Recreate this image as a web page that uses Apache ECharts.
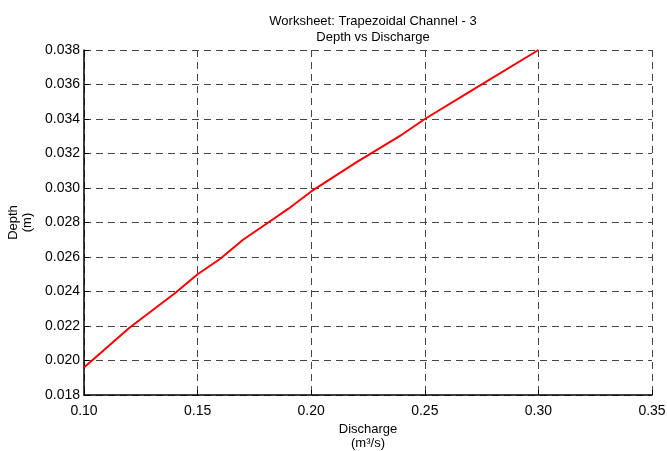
<!DOCTYPE html>
<html>
<head>
<meta charset="utf-8">
<script src="https://cdn.jsdelivr.net/npm/echarts@6/dist/echarts.min.js"></script>
<style>
  html, body { margin: 0; padding: 0; background: #fff; }
  #chart { width: 667px; height: 451px; }
</style>
</head>
<body>
<div id="chart"></div>
<script>
// 数据
var discharge = [0.10, 0.12, 0.14, 0.15, 0.16, 0.17, 0.18, 0.19, 0.20, 0.22, 0.24, 0.25, 0.27, 0.30];
var depth = [0.0196, 0.0219, 0.0239, 0.0250, 0.0259, 0.0270, 0.0279, 0.0288, 0.0298, 0.0315, 0.0331, 0.0340, 0.0356, 0.0380];

var titleLines = ['Worksheet: Trapezoidal Channel - 3', 'Depth vs Discharge'];
var xName = 'Discharge\n(m³/s)';
var yName = 'Depth\n(m)';

var points = [];
for (var i = 0; i < discharge.length; i++) {
	points.push([discharge[i], depth[i]]);
}

var font = 'Liberation Sans, Arial, sans-serif';
var gridLine = {
	show: true,
	lineStyle: { color: '#444', type: [7, 5], width: 1 }
};

var myChart = echarts.init(document.getElementById('chart'));
myChart.setOption({
	animation: false,
	title: {
		text: titleLines.join('\n'),
		left: 368,
		textAlign: 'center',
		top: 8,
		textStyle: {
			fontFamily: font,
			fontSize: 13,
			fontWeight: 'normal',
			color: '#000',
			lineHeight: 16
		}
	},
	grid: {
		left: 84,
		right: 15,
		top: 50,
		bottom: 56,
		containLabel: false,
		outerBoundsMode: 'none'
	},
	xAxis: {
		type: 'value',
		min: 0.10,
		max: 0.35,
		interval: 0.05,
		name: xName,
		nameLocation: 'middle',
		nameGap: 27,
		nameTextStyle: { fontFamily: font, fontSize: 13, color: '#000', lineHeight: 14 },
		axisLine: { show: true, lineStyle: { color: '#000', width: 1.5 } },
		axisTick: { show: true, inside: true, length: 5, lineStyle: { color: '#000' } },
		axisLabel: {
			fontFamily: font, fontSize: 14, color: '#000', margin: 9,
			formatter: function(v) { return v.toFixed(2); }
		},
		splitLine: gridLine
	},
	yAxis: {
		type: 'value',
		min: 0.018,
		max: 0.038,
		interval: 0.002,
		name: yName,
		nameLocation: 'middle',
		nameRotate: 90,
		nameGap: 50,
		nameTextStyle: { fontFamily: font, fontSize: 13, color: '#000', lineHeight: 14 },
		axisLine: { show: true, lineStyle: { color: '#000', width: 1.5 } },
		axisTick: { show: true, inside: true, length: 5, lineStyle: { color: '#000' } },
		axisLabel: {
			fontFamily: font, fontSize: 14, color: '#000', margin: 4,
			formatter: function(v) { return v.toFixed(3); }
		},
		splitLine: gridLine
	},
	series: [{
		type: 'line',
		data: points,
		symbol: 'none',
		lineStyle: { color: '#ff0000', width: 2 },
		z: 5
	}]
});
</script>
</body>
</html>
